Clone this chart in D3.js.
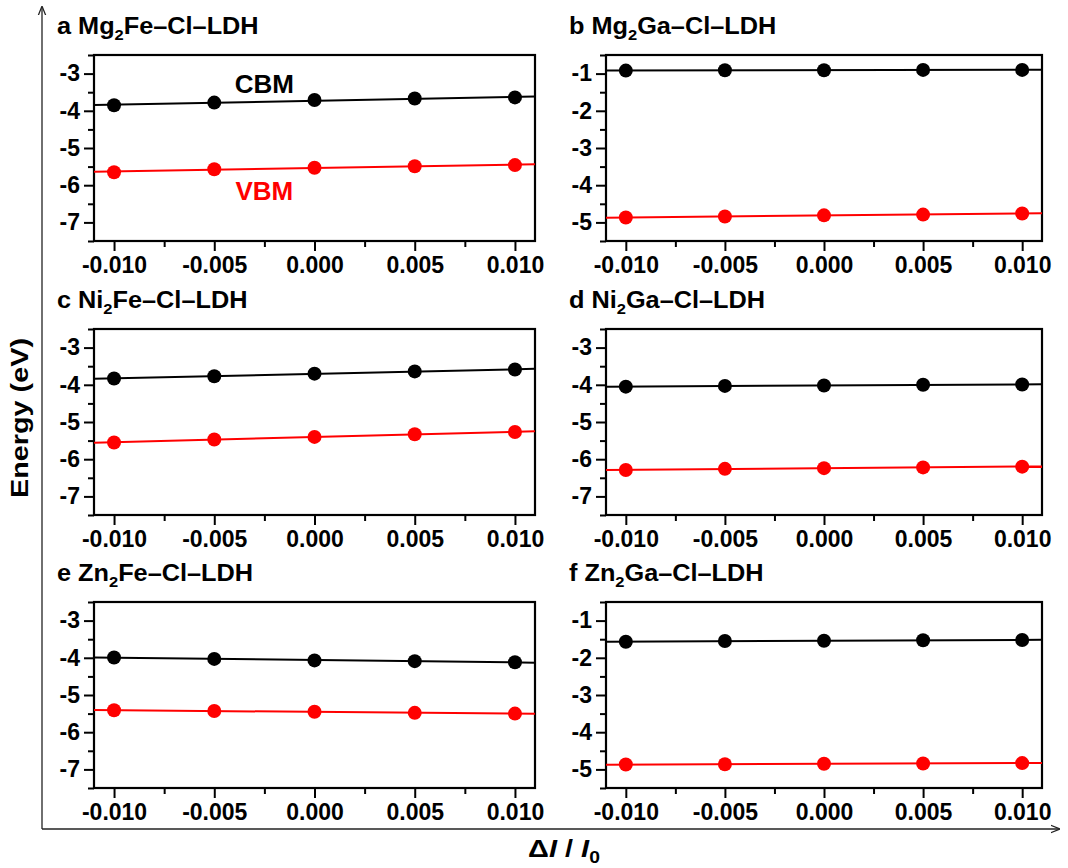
<!DOCTYPE html>
<html>
<head>
<meta charset="utf-8">
<script src="https://cdn.jsdelivr.net/npm/d3@7"></script>
<style>
  body { margin: 0; background: #fff; }
  text { font-family: "Liberation Sans", Arial, sans-serif; }
</style>
</head>
<body>
<svg id="vis" width="1068" height="868"></svg>
<script>
// strain values (x) shared by all panels
const strains = [-0.010, -0.005, 0.000, 0.005, 0.010];
const minorStrains = [-0.0075, -0.0025, 0.0025, 0.0075];

// band edges (eV)
const cbmMg2Fe = [-3.85, -3.78, -3.71, -3.67, -3.64];
const vbmMg2Fe = [-5.65, -5.57, -5.53, -5.49, -5.46];
const cbmMg2Ga = [-0.92, -0.91, -0.91, -0.90, -0.90];
const vbmMg2Ga = [-4.87, -4.84, -4.81, -4.79, -4.76];
const cbmNi2Fe = [-3.83, -3.77, -3.70, -3.64, -3.59];
const vbmNi2Fe = [-5.55, -5.47, -5.40, -5.33, -5.27];
const cbmNi2Ga = [-4.05, -4.03, -4.02, -4.00, -3.99];
const vbmNi2Ga = [-6.29, -6.26, -6.24, -6.22, -6.20];
const cbmZn2Fe = [-3.99, -4.03, -4.07, -4.09, -4.12];
const vbmZn2Fe = [-5.41, -5.43, -5.45, -5.48, -5.50];
const cbmZn2Ga = [-1.57, -1.55, -1.54, -1.53, -1.52];
const vbmZn2Ga = [-4.87, -4.86, -4.85, -4.84, -4.83];

const panels = [
  {tag: "a", m: "Mg", n: "Fe", cbm: cbmMg2Fe, vbm: vbmMg2Fe, y: [-7.5, -2.5], col: 0, row: 0},
  {tag: "b", m: "Mg", n: "Ga", cbm: cbmMg2Ga, vbm: vbmMg2Ga, y: [-5.5, -0.5], col: 1, row: 0},
  {tag: "c", m: "Ni", n: "Fe", cbm: cbmNi2Fe, vbm: vbmNi2Fe, y: [-7.5, -2.5], col: 0, row: 1},
  {tag: "d", m: "Ni", n: "Ga", cbm: cbmNi2Ga, vbm: vbmNi2Ga, y: [-7.5, -2.5], col: 1, row: 1},
  {tag: "e", m: "Zn", n: "Fe", cbm: cbmZn2Fe, vbm: vbmZn2Fe, y: [-7.5, -2.5], col: 0, row: 2},
  {tag: "f", m: "Zn", n: "Ga", cbm: cbmZn2Ga, vbm: vbmZn2Ga, y: [-5.5, -0.5], col: 1, row: 2}
];

const RED = "#ff0000";
const cols = [{left: 94, right: 535}, {left: 606, right: 1042}];
const rowTops = [55, 329, 602];
const plotH = 186;

const svg = d3.select("#vis");

// least squares fit, drawn across the whole x range like the original
function fitLine(xs, ys) {
  var mx = d3.mean(xs), my = d3.mean(ys);
  var b = d3.sum(xs, (x, i) => (x - mx) * (ys[i] - my)) / d3.sum(xs, x => (x - mx) ** 2);
  return x => my + b * (x - mx);
}

// squash/stretch a label so it spans about the same width as in the figure
function stretchTo(g, x, y, target, extra) {
  var w = g.node().getBBox().width;
  g.attr("transform", "translate(" + x + "," + y + ")" + (extra || "") + " scale(" + (target / w) + ",1)");
}

panels.forEach(p => {
  var c = cols[p.col], top = rowTops[p.row];
  var w = c.right - c.left;
  var g = svg.append("g").attr("transform", "translate(" + c.left + "," + top + ")");

  var x = d3.scaleLinear().domain([-0.011, 0.011]).range([0, w]);
  var y = d3.scaleLinear().domain(p.y).range([plotH, 0]);

  // minor ticks
  var yMinor = d3.range(p.y[0], p.y[1] + 0.01, 1);
  g.append("g").attr("transform", "translate(0," + plotH + ")")
    .call(d3.axisBottom(x).tickValues(minorStrains).tickSize(6).tickSizeOuter(0).tickFormat(""));
  g.append("g")
    .call(d3.axisLeft(y).tickValues(yMinor).tickSize(6).tickSizeOuter(0).tickFormat(""));

  // major ticks + labels
  g.append("g").attr("transform", "translate(0," + plotH + ")")
    .call(d3.axisBottom(x).tickValues(strains).tickSize(10).tickSizeOuter(0).tickPadding(6)
      .tickFormat(d => d.toFixed(3)));
  var yMajor = d3.range(Math.ceil(p.y[0]), p.y[1], 1);
  g.append("g")
    .call(d3.axisLeft(y).tickValues(yMajor).tickSize(10).tickSizeOuter(0).tickPadding(4)
      .tickFormat(d => String(d)));

  g.selectAll(".domain").remove();
  g.selectAll(".tick line").attr("stroke", "#000").attr("stroke-width", 2);
  g.selectAll(".tick text").attr("fill", "#000")
    .style("font-size", "23px").style("font-weight", "bold");

  g.append("rect").attr("width", w).attr("height", plotH)
    .attr("fill", "none").attr("stroke", "#000").attr("stroke-width", 2.2);

  [{v: p.cbm, color: "#000"}, {v: p.vbm, color: RED}].forEach(s => {
    var f = fitLine(strains, s.v);
    g.append("path")
      .datum(x.domain())
      .attr("fill", "none").attr("stroke", s.color).attr("stroke-width", 2)
      .attr("d", d3.line().x(d => x(d)).y(d => y(f(d))));
    g.selectAll(null).data(strains).enter().append("circle")
      .attr("cx", d => x(d)).attr("cy", (d, i) => y(s.v[i]))
      .attr("r", 7).attr("fill", s.color);
  });

  if (p.tag === "a") {
    g.append("text").attr("x", x(-0.0025)).attr("y", y(-3.52))
      .attr("text-anchor", "middle").style("font-size", "26px").style("font-weight", "bold")
      .text("CBM");
    g.append("text").attr("x", x(-0.0025)).attr("y", y(-6.4))
      .attr("text-anchor", "middle").style("font-size", "26px").style("font-weight", "bold")
      .attr("fill", RED).text("VBM");
  }

  // panel title with subscript
  var tg = svg.append("g");
  var t = tg.append("text").style("font-size", "23px").style("font-weight", "bold").attr("fill", "#000");
  t.append("tspan").text(p.tag + " " + p.m);
  t.append("tspan").attr("dy", 6).style("font-size", "15px").text("2");
  t.append("tspan").attr("dy", -6).text(p.n + "\u2013Cl\u2013LDH");
  tg.attr("transform", "translate(" + (c.left - 37) + "," + (top - 21) + ") scale(1.1,1)");
});

// outer frame with arrows
svg.append("defs").append("marker")
  .attr("id", "arrow").attr("viewBox", "0 0 10 10").attr("refX", 9).attr("refY", 5)
  .attr("markerWidth", 7).attr("markerHeight", 7).attr("orient", "auto")
  .append("path").attr("d", "M0,1 L10,5 L0,9").attr("fill", "none").attr("stroke", "#222").attr("stroke-width", 1.4);

svg.append("path").attr("d", "M42,829 L42,7").attr("stroke", "#222").attr("stroke-width", 1.3)
  .attr("fill", "none").attr("marker-end", "url(#arrow)");
svg.append("path").attr("d", "M42,829 L1059,829").attr("stroke", "#222").attr("stroke-width", 1.3)
  .attr("fill", "none").attr("marker-end", "url(#arrow)");

// axis titles
var eg = svg.append("g");
eg.append("text").attr("text-anchor", "middle").style("font-size", "24px").style("font-weight", "bold")
  .text("Energy (eV)");
stretchTo(eg, 28, 418, 160, " rotate(-90)");

var dg = svg.append("g");
var dt = dg.append("text").attr("text-anchor", "middle").style("font-size", "24px").style("font-weight", "bold");
dt.append("tspan").text("\u0394");
dt.append("tspan").style("font-style", "italic").text("I");
dt.append("tspan").text(" / ");
dt.append("tspan").style("font-style", "italic").text("I");
dt.append("tspan").attr("dy", 6).style("font-size", "16px").text("0");
stretchTo(dg, 564, 857, 72);
</script>
</body>
</html>
